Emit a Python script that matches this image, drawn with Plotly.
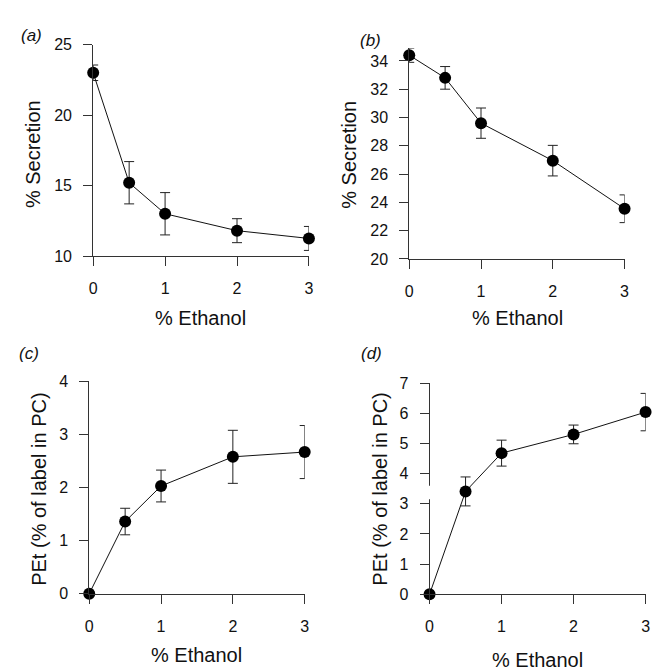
import plotly.graph_objects as go

# ---- data ----
ethanol = [0, 0.5, 1, 2, 3]
x_ticks = [0, 1, 2, 3]

secretion_a = [23.0, 15.2, 13.0, 11.8, 11.25]
secretion_a_err = [0.55, 1.5, 1.5, 0.85, 0.85]

secretion_b = [34.4, 32.8, 29.6, 26.95, 23.55]
secretion_b_err = [0.5, 0.8, 1.07, 1.08, 0.98]

pet_c = [0, 1.36, 2.03, 2.58, 2.67]
pet_c_err = [0, 0.25, 0.3, 0.5, 0.5]

pet_d = [0, 3.41, 4.68, 5.30, 6.04]
pet_d_err = [0, 0.48, 0.43, 0.31, 0.62]

ticks_a = [10, 15, 20, 25]
ticks_b = [20, 22, 24, 26, 28, 30, 32, 34]
ticks_c = [0, 1, 2, 3, 4]
ticks_d = [0, 1, 2, 3, 4, 5, 6, 7]

panel_labels = ["(a)", "(b)", "(c)", "(d)"]
x_title = "% Ethanol"
y_title_top = "% Secretion"
y_title_bottom = "PEt (% of label in PC)"

W, H = 663, 671
FONT = "Liberation Sans, Arial, Helvetica, sans-serif"
INK = "#111111"
AX = "#333333"


def xd(l, r):
    return [l / W, r / W]


def yd(b, t):
    return [1 - b / H, 1 - t / H]


fig = go.Figure()

series = [
    (secretion_a, secretion_a_err, "x", "y"),
    (secretion_b, secretion_b_err, "x2", "y2"),
    (pet_c, pet_c_err, "x3", "y3"),
    (pet_d, pet_d_err, "x4", "y4"),
]
for vals, errs, xa, ya in series:
    fig.add_trace(go.Scatter(
        x=ethanol, y=vals, xaxis=xa, yaxis=ya,
        mode="lines+markers",
        line=dict(color="#111111", width=1),
        marker=dict(color="#000000", size=12),
        error_y=dict(type="data", array=errs, visible=True,
                     color="#222222", thickness=1, width=5),
        cliponaxis=False, showlegend=False, hoverinfo="skip",
    ))

common_axis = dict(
    showline=True, linecolor=AX, linewidth=1,
    ticks="outside", ticklen=9, tickcolor=AX, tickwidth=1,
    showgrid=False, zeroline=False,
    tickfont=dict(family=FONT, size=16, color=INK),
)

xdom = [xd(82.3, 301), xd(402.7, 621), xd(78.3, 296.7), xd(423.3, 642.3)]
ydom = [yd(246.3, 29.3), yd(249.3, 33.0), yd(592.7, 375), yd(593.3, 376.7)]
yranges = [[10, 25], [20, 34.9], [0, 4], [0, 7]]
yticks = [ticks_a, ticks_b, ticks_c, ticks_d]

for i in range(4):
    sx = "" if i == 0 else str(i + 1)
    fig.update_layout(**{
        "xaxis" + sx: dict(common_axis, domain=xdom[i], range=[0, 3],
                           tickvals=x_ticks, anchor="y" + sx,
                           ticklabelstandoff=9),
        "yaxis" + sx: dict(common_axis, domain=ydom[i], range=yranges[i],
                           tickvals=yticks[i], anchor="x" + sx,
                           ticklabelstandoff=8),
    })

annotations = []


def ann(text, px, py, size, italic=False, angle=0):
    annotations.append(dict(
        text=f"<i>{text}</i>" if italic else text,
        x=px / W, y=1 - py / H, xref="paper", yref="paper",
        xanchor="center", yanchor="middle", showarrow=False,
        textangle=angle,
        font=dict(family=FONT, size=size, color=INK),
    ))


# panel labels
ann(panel_labels[0], 20, 20, 17, italic=True)
ann(panel_labels[1], 363, 25, 17, italic=True)
ann(panel_labels[2], 17.5, 346, 17, italic=True)
ann(panel_labels[3], 364, 346, 17, italic=True)

# y titles
ann(y_title_top, 22, 142, 20, angle=-90)
ann(y_title_top, 342, 142, 20, angle=-90)
ann(y_title_bottom, 27.5, 486, 20, angle=-90)
ann(y_title_bottom, 373, 485, 20, angle=-90)

# x titles
ann(x_title, 191.5, 310, 20)
ann(x_title, 512, 310, 20)
ann(x_title, 187.5, 656, 20)
ann(x_title, 533, 661, 20)

# small axis break on panel (d)
shapes = [dict(type="line", xref="x4 domain", yref="y4",
               x0=0, x1=0, y0=3.15, y1=3.6,
               line=dict(color="white", width=3), layer="above")]

fig.update_layout(
    width=W, height=H,
    margin=dict(l=0, r=0, t=0, b=0),
    paper_bgcolor="white", plot_bgcolor="white",
    annotations=annotations, shapes=shapes,
    font=dict(family=FONT, color=INK),
)

fig.write_html("out.html")
